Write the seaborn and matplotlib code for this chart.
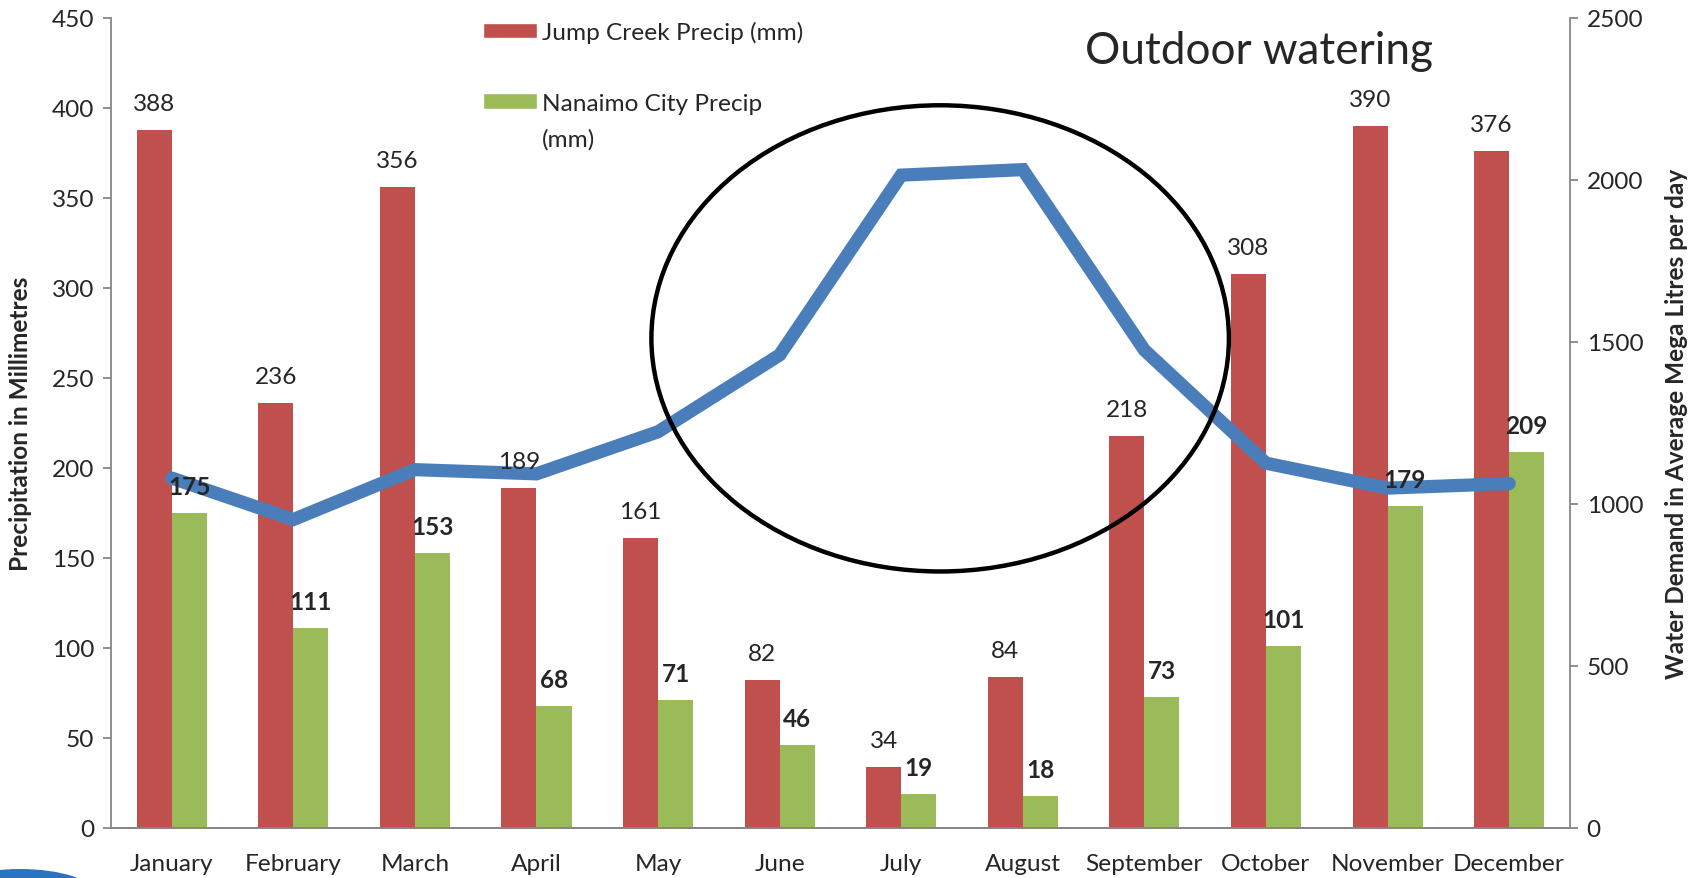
import numpy as np
import pandas as pd
import seaborn as sns
import matplotlib.pyplot as plt
from matplotlib.patches import Patch, Ellipse

# # Data

months = ["January", "February", "March", "April", "May", "June",
          "July", "August", "September", "October", "November", "December"]
jump_creek = [388, 236, 356, 189, 161, 82, 34, 84, 218, 308, 390, 376]
nanaimo = [175, 111, 153, 68, 71, 46, 19, 18, 73, 101, 179, 209]
demand = [1080, 952, 1106, 1093, 1223, 1460, 2015, 2032, 1475, 1126, 1049, 1063]

RED = "#C0504D"
GREEN = "#9BBB59"
BLUE = "#4A7EBB"
GREY = "#868686"

df = pd.DataFrame({
    "month": months * 2,
    "precip": jump_creek + nanaimo,
    "station": ["Jump Creek Precip (mm)"] * 12 + ["Nanaimo City Precip (mm)"] * 12,
})

# # Plot

sns.set_style("white")
plt.rcParams["font.family"] = ["Lato", "DejaVu Sans"]
FS = 17.6

fig = plt.figure(figsize=(17.02, 8.79), dpi=100)
ax = fig.add_axes([0.0652, 0.0569, 0.8572, 0.9215])

bw = 0.576
sns.barplot(data=df, x="month", y="precip", hue="station",
            palette=[RED, GREEN], saturation=1, width=bw, gap=0,
            linewidth=0, legend=False, ax=ax)

ax.set_xlim(-0.5, 11.5)
ax.set_ylim(0, 450)
ax.set_yticks(np.arange(0, 451, 50))
ax.set_xlabel("")
ax.set_ylabel("Precipitation in Millimetres", fontsize=17.6, fontweight="bold", labelpad=14)

ax2 = ax.twinx()
sns.lineplot(x=np.arange(12), y=demand, color=BLUE, linewidth=9.5, ax=ax2,
             solid_capstyle="round", solid_joinstyle="miter")
ax2.set_ylim(0, 2500)
ax2.set_yticks(np.arange(0, 2501, 500))
ax2.set_ylabel("Water Demand in Average Mega Litres per day", fontsize=17.6,
               fontweight="bold", labelpad=16)

for a in (ax, ax2):
    a.spines["top"].set_visible(False)
    for s in ("left", "right", "bottom"):
        a.spines[s].set_color(GREY)
        a.spines[s].set_linewidth(1.3)
    a.tick_params(axis="y", length=6, width=1.3, color=GREY, labelsize=FS, pad=6)

ax.set_xticks(np.arange(12))
ax.set_xticks(np.arange(-0.5, 12, 1), minor=True)
ax.tick_params(axis="x", which="major", length=0, labelsize=FS, pad=18)
ax.tick_params(axis="x", which="minor", length=6, width=1.3, color=GREY, direction="out")
ax.spines["right"].set_visible(False)
ax2.spines["left"].set_visible(False)

# data labels, above the line
off = bw / 4
for i in range(12):
    ax2.annotate(str(jump_creek[i]), xy=(i - off, jump_creek[i]), xycoords=ax.transData,
                 xytext=(0, 19), textcoords="offset points",
                 ha="center", va="center", fontsize=FS)
    ax2.annotate(str(nanaimo[i]), xy=(i + off, nanaimo[i]), xycoords=ax.transData,
                 xytext=(0, 19), textcoords="offset points",
                 ha="center", va="center", fontsize=FS, fontweight="bold")

# circled summer months
ax2.add_patch(Ellipse((6.32, 272), 4.75, 259, transform=ax.transData,
                      facecolor="none", edgecolor="black", linewidth=3.2, zorder=5))

handles = [Patch(facecolor=RED), Patch(facecolor="none", edgecolor="none"),
           Patch(facecolor=GREEN), Patch(facecolor="none", edgecolor="none")]
labels = ["Jump Creek Precip (mm)", "", "Nanaimo City Precip", "(mm)"]
ax2.legend(handles, labels, loc="upper left", bbox_to_anchor=(0.255, 0.9965),
           frameon=False, fontsize=FS, handlelength=2.2, handleheight=0.6,
           handletextpad=0.2, labelspacing=0.59, borderpad=0, borderaxespad=0)

fig.text(0.740, 0.941, "Outdoor watering", ha="center", va="center", fontsize=31.8)

# corner of a logo peeking in at bottom left
fig.add_artist(Ellipse((20 / 1702, -16 / 879), 150 / 1702, 50 / 879,
                       transform=fig.transFigure, facecolor="#2A73C0",
                       edgecolor="none", clip_on=False))

fig.savefig("out.png", dpi=100)
